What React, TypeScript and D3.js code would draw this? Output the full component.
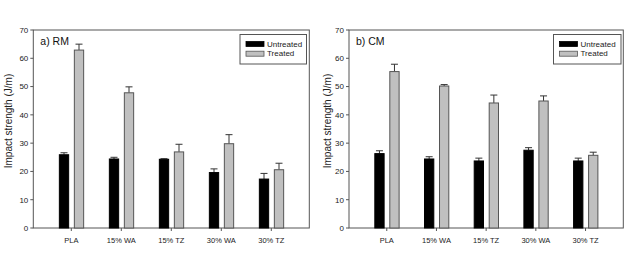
import React from "react";
import * as d3 from "d3";

const categories = ["PLA", "15% WA", "15% TZ", "30% WA", "30% TZ"];
const seriesNames = ["Untreated", "Treated"];
const yTicks = [0, 10, 20, 30, 40, 50, 60, 70];

const rmUntreated = [25.9, 24.4, 24.3, 19.6, 17.3];
const rmUntreatedErr = [0.7, 0.6, 0.2, 1.3, 2.0];
const rmTreated = [62.9, 47.8, 26.9, 29.8, 20.6];
const rmTreatedErr = [2.1, 2.1, 2.7, 3.2, 2.3];

const cmUntreated = [26.3, 24.4, 23.7, 27.5, 23.7];
const cmUntreatedErr = [1.0, 0.8, 1.0, 0.9, 1.0];
const cmTreated = [55.3, 50.2, 44.2, 44.9, 25.7];
const cmTreatedErr = [2.6, 0.5, 2.8, 1.8, 1.1];

const FONT = "Liberation Sans, Arial, sans-serif";
const colors = ["#000000", "#c0c0c0"];

type PanelProps = {
  left: number;
  right: number;
  label: string;
  values: number[][];
  errs: number[][];
  titleX: number;
  legendX: number;
  legendW: number;
};

function Panel({ left, right, label, values, errs, titleX, legendX, legendW }: PanelProps) {
  const top = 30;
  const bottom = 228;
  const y = d3.scaleLinear().domain([0, 70]).range([bottom, top]);
  const x = d3.scalePoint<string>().domain(categories).range([left, right]).padding(0.76);
  const barW = 9.3;
  const offsets = [-7.3, 7.7];
  return (
    <g>
      <rect x={left} y={top} width={right - left} height={bottom - top} fill="none" stroke="#555" strokeWidth={1} />
      {yTicks.map((t) => (
        <g key={t}>
          <line x1={left - 3} x2={left} y1={y(t)} y2={y(t)} stroke="#555" />
          <text x={left - 5} y={y(t)} dy="0.35em" textAnchor="end" fontSize={8} fontFamily={FONT} fill="#222">
            {t}
          </text>
        </g>
      ))}
      {categories.map((c) => (
        <g key={c}>
          <line x1={x(c)!} x2={x(c)!} y1={bottom} y2={bottom + 3} stroke="#555" />
          <text x={x(c)!} y={243} textAnchor="middle" fontSize={7.5} fontFamily={FONT} fill="#222">
            {c}
          </text>
        </g>
      ))}
      {values.map((series, si) =>
        series.map((v, i) => {
          const cx = x(categories[i])! + offsets[si];
          const e = errs[si][i];
          return (
            <g key={si + "-" + i}>
              <line x1={cx} x2={cx} y1={y(v)} y2={y(v + e)} stroke="#333" strokeWidth={1} />
              <line x1={cx - 3.5} x2={cx + 3.5} y1={y(v + e)} y2={y(v + e)} stroke="#333" strokeWidth={1} />
              <rect
                x={cx - barW / 2}
                y={y(v)}
                width={barW}
                height={bottom - y(v)}
                fill={colors[si]}
                stroke={si === 0 ? "#000" : "#555"}
                strokeWidth={1}
              />
            </g>
          );
        })
      )}
      <text x={left + 7} y={45} fontSize={10.5} fontFamily={FONT} fill="#111">
        {label}
      </text>
      <text
        transform={`translate(${titleX},121) rotate(-90)`}
        textAnchor="middle"
        dy="0.35em"
        fontSize={10}
        fontFamily={FONT}
        fill="#222"
      >
        Impact strength (J/m)
      </text>
      <g>
        <rect x={legendX} y={34.5} width={legendW} height={29.5} fill="#fff" stroke="#555" strokeWidth={1} />
        {seriesNames.map((s, i) => (
          <g key={s}>
            <rect x={legendX + 6} y={41.5 + i * 9.7} width={18} height={5} fill={colors[i]} stroke={i === 0 ? "#000" : "#555"} strokeWidth={0.8} />
            <text x={legendX + 27} y={44} dy="0.35em" transform={`translate(0,${i * 9.7})`} fontSize={8} fontFamily={FONT} fill="#222">
              {s}
            </text>
          </g>
        ))}
      </g>
    </g>
  );
}

export default function App() {
  return (
    <svg width={640} height={253} style={{ position: "absolute", left: 0, top: 0, background: "#fff" }}>
      <rect width={640} height={253} fill="#fff" />
      <Panel
        left={33.3}
        right={309.3}
        label="a) RM"
        values={[rmUntreated, rmTreated]}
        errs={[rmUntreatedErr, rmTreatedErr]}
        titleX={8}
        legendX={240}
        legendW={66.5}
      />
      <Panel
        left={349}
        right={623.3}
        label="b) CM"
        values={[cmUntreated, cmTreated]}
        errs={[cmUntreatedErr, cmTreatedErr]}
        titleX={327}
        legendX={553.5}
        legendW={67.5}
      />
    </svg>
  );
}
